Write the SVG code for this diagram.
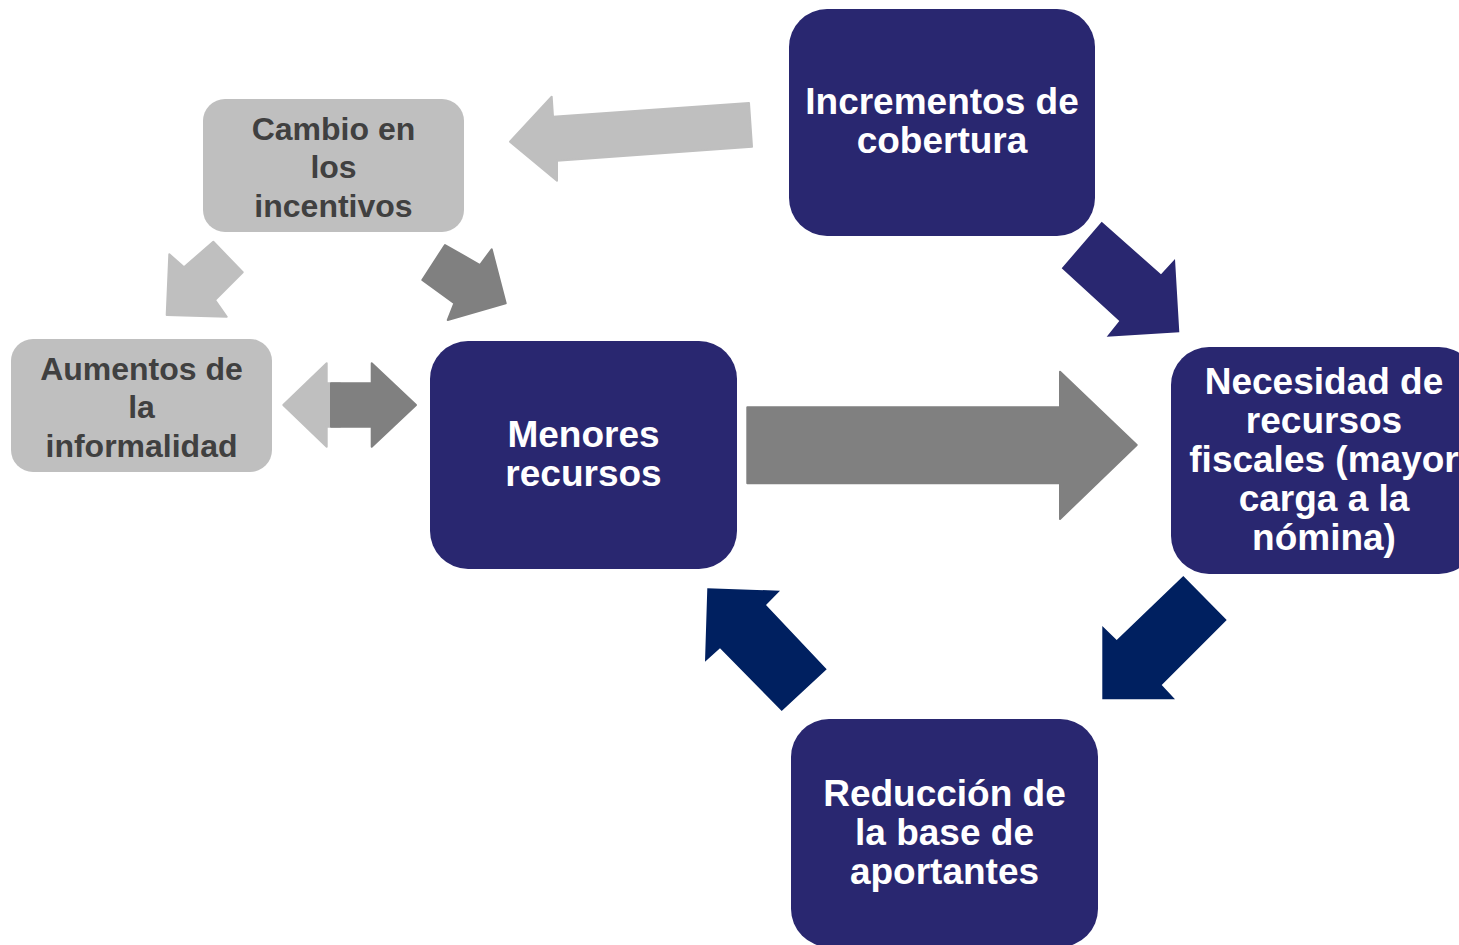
<svg xmlns="http://www.w3.org/2000/svg" width="1459" height="945" viewBox="0 0 1459 945">
<style>
.bb{fill:#292770}
.gb{fill:#bfbfbf}
.wt{font-family:"Liberation Sans",Arial,sans-serif;font-weight:bold;font-size:37px;fill:#ffffff;text-anchor:middle}
.gt{font-family:"Liberation Sans",Arial,sans-serif;font-weight:bold;font-size:32px;fill:#404040;text-anchor:middle}
.lg{fill:#bfbfbf;stroke:#bfbfbf;stroke-width:2;stroke-linejoin:round}
.mg{fill:#808080;stroke:#808080;stroke-width:2;stroke-linejoin:round}
.nv{fill:#002060}
.pu{fill:#292770}
</style>
<rect width="1459" height="945" fill="#ffffff"/>
<g id="connectors">
<polygon class="lg" points="510,141.7 551.7,96.7 553,116.7 749,103 752,146.7 557,160.7 557,180.7"/>
<polygon class="pu" points="1101.7,221.7 1161,274.3 1175,259 1179.3,332.3 1106.7,336.7 1119.3,321 1061.7,268.3"/>
<polygon class="lg" points="213.3,241.7 242.7,272.3 215,300 226.7,316.7 166.7,315 169.3,254.3 184,267.3"/>
<polygon class="mg" points="445,245 480,265 491.7,249.3 505.7,303.3 447.7,320 454.3,303.3 422.3,280"/>
<polygon class="lg" points="283.3,405 326.7,363.3 326.7,383.3 340,383.3 340,426.7 326.7,426.7 326.7,446.7"/>
<polygon class="mg" points="331,383.3 371.7,383.3 371.7,363.3 416,405 371.7,446.7 371.7,426.7 331,426.7"/>
<polygon class="mg" points="747.3,407.3 1060,407.3 1060,371.7 1136.7,445 1060,519 1060,483.3 747.3,483.3"/>
<polygon class="nv" points="1183.3,576 1226.7,620 1161.7,685 1175,699.3 1102.3,699.3 1102.3,626 1116.7,640"/>
<polygon class="nv" points="707.3,588.3 780,590.7 766,605 826.7,669.3 781.7,711 720,648.3 705,661.7"/>
</g>
<g id="cambio">
<rect class="gb" x="203" y="99" width="261" height="133" rx="22"/>
<text class="gt" x="333.5" y="139.5">Cambio en</text>
<text class="gt" x="333.5" y="177.5">los</text>
<text class="gt" x="333.5" y="216.5">incentivos</text>
</g>
<g id="aumentos">
<rect class="gb" x="11" y="339" width="261" height="133" rx="22"/>
<text class="gt" x="141.5" y="380">Aumentos de</text>
<text class="gt" x="141.5" y="418">la</text>
<text class="gt" x="141.5" y="457">informalidad</text>
</g>
<g id="incrementos">
<rect class="bb" x="789" y="9" width="306" height="227" rx="38"/>
<text class="wt" x="942" y="114">Incrementos de</text>
<text class="wt" x="942" y="153">cobertura</text>
</g>
<g id="menores">
<rect class="bb" x="430" y="341" width="307" height="228" rx="38"/>
<text class="wt" x="583.5" y="447">Menores</text>
<text class="wt" x="583.5" y="486">recursos</text>
</g>
<g id="necesidad">
<rect class="bb" x="1171" y="347" width="306" height="227" rx="38"/>
<text class="wt" x="1324" y="394">Necesidad de</text>
<text class="wt" x="1324" y="433">recursos</text>
<text class="wt" x="1324" y="472">fiscales (mayor</text>
<text class="wt" x="1324" y="511">carga a la</text>
<text class="wt" x="1324" y="550">nómina)</text>
</g>
<g id="reduccion">
<rect class="bb" x="791" y="719" width="307" height="228" rx="38"/>
<text class="wt" x="944.5" y="806">Reducción de</text>
<text class="wt" x="944.5" y="845">la base de</text>
<text class="wt" x="944.5" y="884">aportantes</text>
</g>
</svg>
